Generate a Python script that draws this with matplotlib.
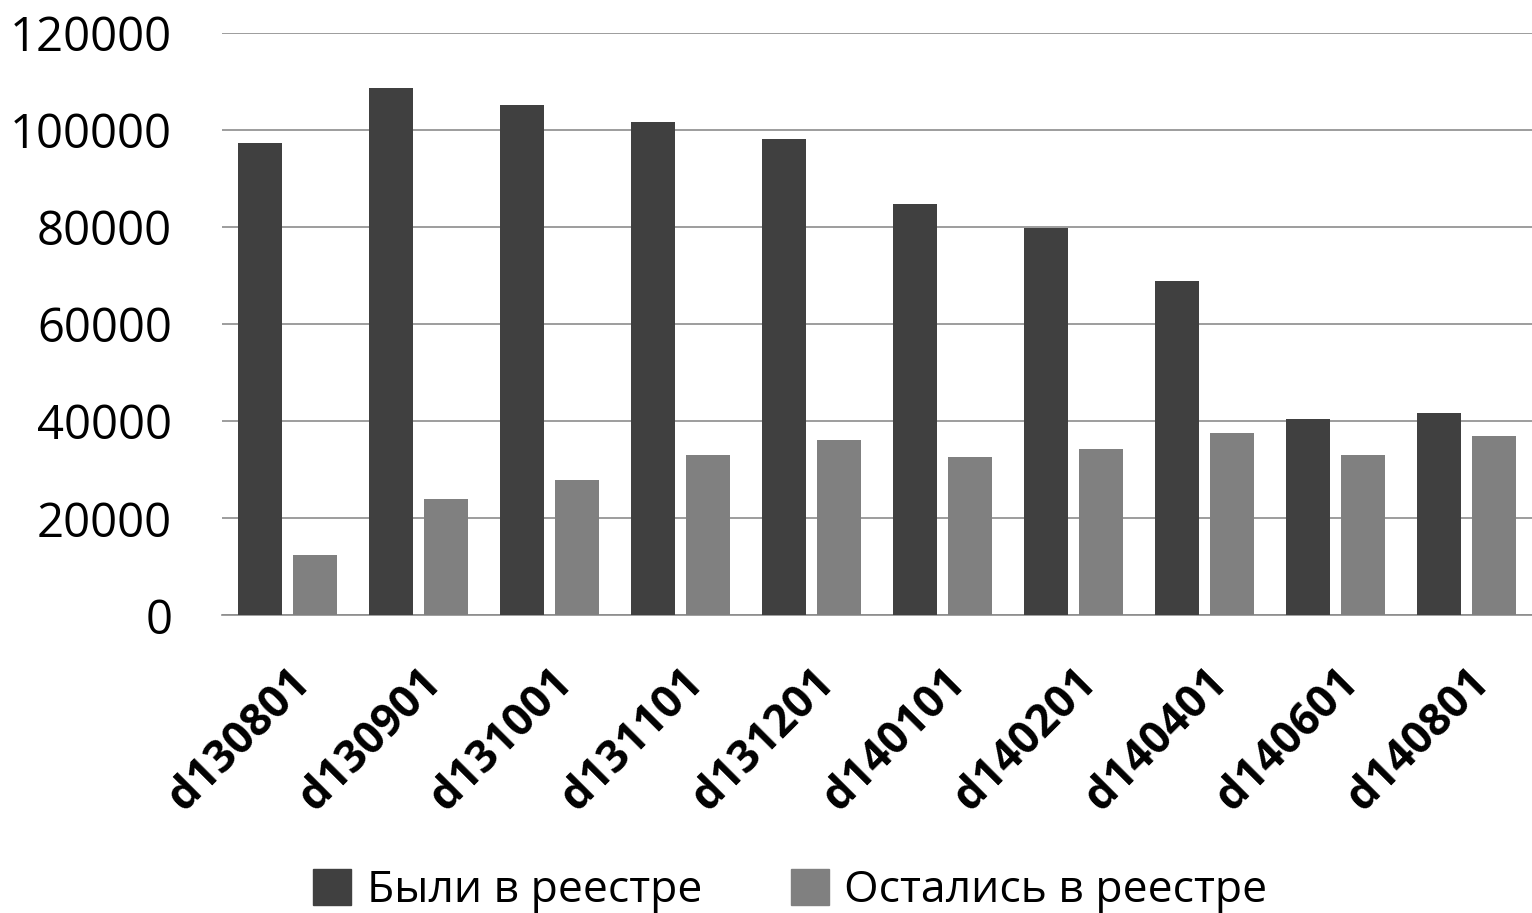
import matplotlib
matplotlib.use("Agg")
import matplotlib.pyplot as plt
import numpy as np
from matplotlib.patches import Patch

categories = ["d130801", "d130901", "d131001", "d131101", "d131201",
              "d140101", "d140201", "d140401", "d140601", "d140801"]
were = [97300, 108700, 105200, 101600, 98100, 84700, 79800, 68900, 40400, 41600]
remained = [12400, 23900, 27800, 33000, 36100, 32600, 34200, 37500, 33000, 36900]
series_names = ["Были в реестре", "Остались в реестре"]
yticks = [0, 20000, 40000, 60000, 80000, 100000, 120000]

plt.rcParams['font.family'] = ['Open Sans', 'DejaVu Sans']

fig = plt.figure(figsize=(15.32, 9.13), dpi=100)
ax = fig.add_axes([0.145, 0.326, 0.855, 0.638])

x = np.arange(len(categories))
w = 0.34
c1, c2 = "#404040", "#808080"
ax.bar(x - 0.21, were, w, color=c1, zorder=3)
ax.bar(x + 0.21, remained, w, color=c2, zorder=3)

ax.set_xlim(-0.5, len(categories) - 0.5)
ax.set_ylim(0, 120000)
ax.set_yticks(yticks)
ax.set_yticklabels([str(v) for v in yticks], fontsize=34)
ax.yaxis.grid(True, color="#8c8c8c", linewidth=1.2, zorder=0)
ax.tick_params(axis='y', length=0, pad=36)
ax.tick_params(axis='x', length=0, pad=32)
ax.set_xticks(x)
ax.set_xticklabels(categories, rotation=45, ha='right', va='top',
                   rotation_mode='anchor', fontsize=32, fontweight='bold')
for s in ['left', 'right', 'top']:
    ax.spines[s].set_visible(False)
ax.spines['bottom'].set_color("#8c8c8c")
ax.spines['bottom'].set_linewidth(1.2)

handles = [Patch(color=c1), Patch(color=c2)]
fig.legend(handles, series_names, loc='center', bbox_to_anchor=(0.516, 0.024),
           ncol=2, frameon=False, fontsize=32, handlelength=0.85, handleheight=0.85,
           handletextpad=0.35, columnspacing=2.0)

fig.savefig("out.png", dpi=100)
